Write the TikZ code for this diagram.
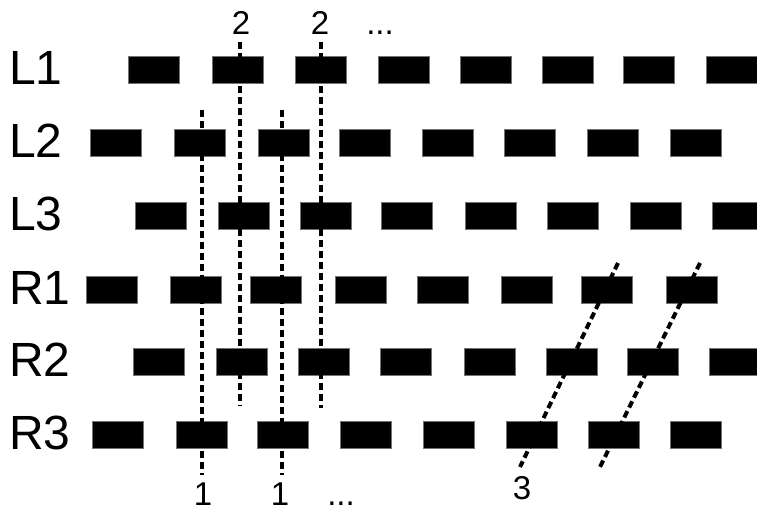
\documentclass[tikz,border=0pt]{standalone}
\usepackage{fontspec}
\setmainfont{Liberation Sans}
\usetikzlibrary{positioning}

\begin{document}
\begin{tikzpicture}[x=1pt,y=-1pt,
      brick/.style={fill=black,draw=black!55,line width=0.5pt,inner sep=0pt,
                    minimum width=51pt,minimum height=27pt},
      rowlbl/.style={anchor=west,inner sep=0pt,font=\fontsize{48}{48}\selectfont},
      num/.style={anchor=base,inner sep=0pt,font=\fontsize{33}{33}\selectfont},
      cut/.style={draw=black,line width=4pt,dash pattern=on 7pt off 4pt}]
    \useasboundingbox (0,0) rectangle (757,510);
    % row labels
    \node[rowlbl] (lblL1) at (9,68) {L1};
    \node[rowlbl] (lblL2) at (9,141) {L2};
    \node[rowlbl] (lblL3) at (9,214) {L3};
    \node[rowlbl] (lblR1) at (9,288) {R1};
    \node[rowlbl] (lblR2) at (9,360) {R2};
    \node[rowlbl] (lblR3) at (9,433) {R3};
    % bricks, one row at a time
    \foreach \x [count=\i] in {154,237.5,320.5,403.5,485.5,567.5,649,732}
      \node[brick] (L1-\i) at (\x,70) {};
    \foreach \x [count=\i] in {116,199.5,283.5,365,448,529.5,612.5,695.5}
      \node[brick] (L2-\i) at (\x,143) {};
    \foreach \x [count=\i] in {160.5,243.5,325.5,407,491,573,656,738}
      \node[brick] (L3-\i) at (\x,216) {};
    \foreach \x [count=\i] in {112,195.5,276,360.5,442.5,526.5,607,691.5}
      \node[brick] (R1-\i) at (\x,290) {};
    \foreach \x [count=\i] in {158.5,241.5,323.5,406,489.5,571.5,653,735}
      \node[brick] (R2-\i) at (\x,362) {};
    \foreach \x [count=\i] in {118,201.5,283,365.5,449,532,614,696}
      \node[brick] (R3-\i) at (\x,435) {};
    % cut lines
    \coordinate (c1t) at (202,110);  \coordinate (c1b) at (202,475);
    \coordinate (c2t) at (282,110);  \coordinate (c2b) at (282,475);
    \coordinate (d1t) at (240,42);   \coordinate (d1b) at (240,406);
    \coordinate (d2t) at (321,42);   \coordinate (d2b) at (321,408);
    \coordinate (e1t) at (618,263);  \coordinate (e1b) at (520,467);
    \coordinate (e2t) at (700,263);  \coordinate (e2b) at (600,467);
    \draw[cut] (c1t) -- (c1b);
    \draw[cut] (c2t) -- (c2b);
    \draw[cut] (d1t) -- (d1b);
    \draw[cut] (d2t) -- (d2b);
    \draw[cut] (e1t) -- (e1b);
    \draw[cut] (e2t) -- (e2b);
    % numbers
    \node[num] (n2a) at (241,35) {2};
    \node[num] (n2b) at (320,35) {2};
    \node[num] (dotsT) at (380,35) {...};
    \node[num] (n1a) at (203,505) {1};
    \node[num] (n1b) at (280,505) {1};
    \node[num] (dotsB) at (341,505) {...};
    \node[num] (n3) at (522,499) {3};
  \end{tikzpicture}
\end{document}
